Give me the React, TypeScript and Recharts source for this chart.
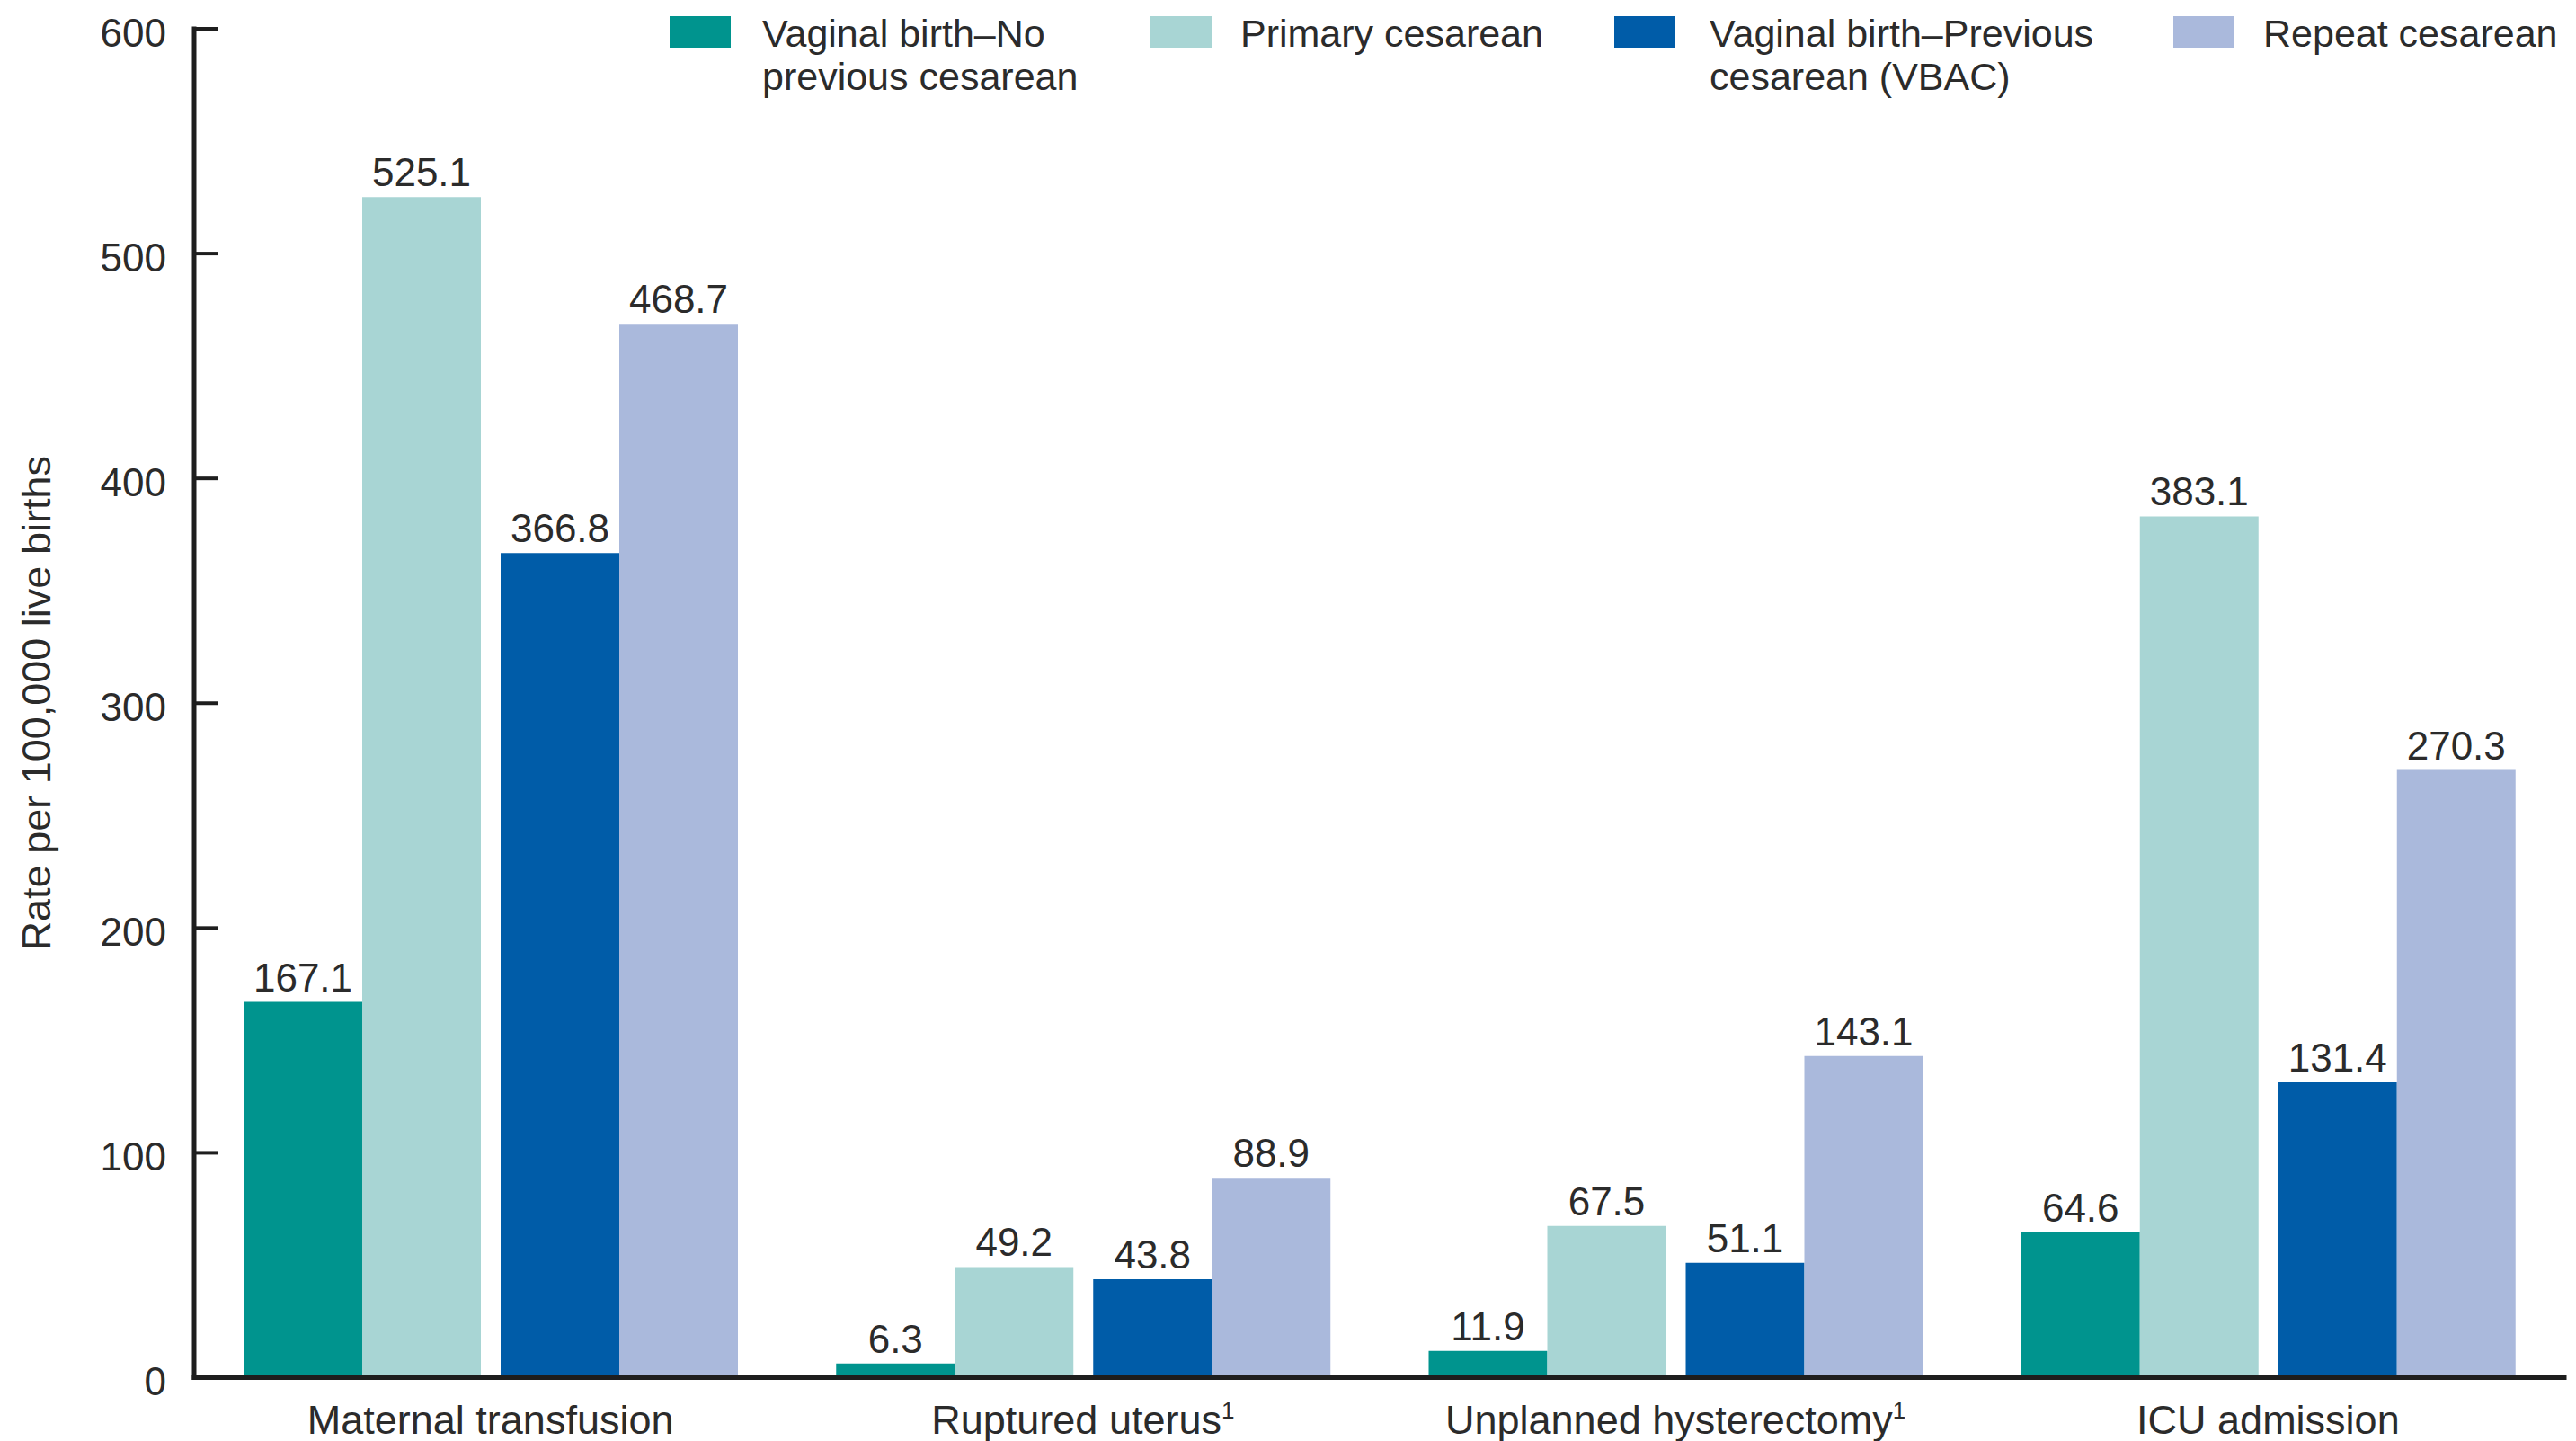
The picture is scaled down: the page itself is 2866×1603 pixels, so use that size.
import { BarChart, Bar, XAxis, YAxis, LabelList, Legend } from "recharts"

const categories = ["Maternal transfusion", "Ruptured uterus", "Unplanned hysterectomy", "ICU admission"]
// categories that carry footnote 1
const footnoted = [false, true, true, false]

const vaginalNoPrevious = [167.1, 6.3, 11.9, 64.6]
const primaryCesarean = [525.1, 49.2, 67.5, 383.1]
const vbac = [366.8, 43.8, 51.1, 131.4]
const repeatCesarean = [468.7, 88.9, 143.1, 270.3]

const yTicks = [0, 100, 200, 300, 400, 500, 600]

const series = [
    { key: "vaginalNoPrevious", lines: ["Vaginal birth\u2013No", "previous cesarean"], color: "#00948e" },
    { key: "primaryCesarean", lines: ["Primary cesarean"], color: "#a8d5d4" },
    { key: "vbac", lines: ["Vaginal birth\u2013Previous", "cesarean (VBAC)"], color: "#005ca8" },
    { key: "repeatCesarean", lines: ["Repeat cesarean"], color: "#aab9dc" },
]

const data = categories.map((category, i) => ({
    category,
    vaginalNoPrevious: vaginalNoPrevious[i],
    primaryCesarean: primaryCesarean[i],
    vbac: vbac[i],
    repeatCesarean: repeatCesarean[i],
}))

const FONT = '"Liberation Sans", Arial, Helvetica, sans-serif'
const INK = "#2b2b2b"
const AXIS = "#1e1e1e"

// left edges of each legend swatch / text column
const legendSwatchX = [737, 1272, 1788, 2410]
const legendTextX = [840, 1372, 1894, 2510]

function CategoryTick({ x, y, payload }: any) {
    const idx = categories.indexOf(payload.value)
    return (
        <text x={x} y={y + 62} textAnchor="middle" fill={INK} fontSize={45} fontFamily={FONT}>
            {payload.value}
            {footnoted[idx] && (
                <tspan dy={-17} fontSize={26}>1</tspan>
            )}
        </text>
    )
}

function ValueTick({ x, y, payload }: any) {
    return (
        <g>
            <text x={x - 31} y={y} dy={4} textAnchor="end" dominantBaseline="central" fill={INK} fontSize={44} fontFamily={FONT}>
                {payload.value}
            </text>
            {payload.value !== 0 && (
                <line x1={x} x2={x + 27} y1={y} y2={y} stroke={AXIS} strokeWidth={4} />
            )}
        </g>
    )
}

function YTitle({ viewBox }: any) {
    const cy = viewBox.y + viewBox.height / 2
    return (
        <text x={32} y={cy} transform={`rotate(-90, 32, ${cy})`} textAnchor="middle" dominantBaseline="central"
            fill={INK} fontSize={45} fontFamily={FONT}>
            Rate per 100,000 live births
        </text>
    )
}

function LegendBox() {
    return (
        <div style={{ position: "relative", width: 2858, height: 110, fontFamily: FONT, color: INK }}>
            {series.map((s, i) => (
                <div key={s.key}>
                    <div style={{ position: "absolute", left: legendSwatchX[i], top: 10, width: 68, height: 35, background: s.color }} />
                    <div style={{ position: "absolute", left: legendTextX[i], top: 5, fontSize: 43, lineHeight: "48px", whiteSpace: "nowrap" }}>
                        {s.lines.map((l) => <div key={l}>{l}</div>)}
                    </div>
                </div>
            ))}
        </div>
    )
}

const fmt = (v: any) => Number(v).toFixed(1)

export default function App() {
    return (
        <div style={{ width: 2858, height: 1595, background: "#fff" }}>
            <BarChart width={2858} height={1595} data={data} barGap={0}
                margin={{ top: 24, right: 13, bottom: 0, left: 0 }}>
                <XAxis
                    dataKey="category"
                    height={70.5}
                    interval={0}
                    axisLine={{ stroke: AXIS, strokeWidth: 5, strokeLinecap: "square" }}
                    tickLine={false}
                    tickSize={0}
                    tickMargin={0}
                    tick={<CategoryTick />}
                />
                <YAxis
                    width={208}
                    domain={[0, 600]}
                    ticks={yTicks}
                    axisLine={{ stroke: AXIS, strokeWidth: 5, strokeLinecap: "square" }}
                    tickLine={false}
                    tickSize={0}
                    tickMargin={0}
                    tick={<ValueTick />}
                    label={{ content: <YTitle /> }}
                />
                <Legend verticalAlign="middle" align="center" wrapperStyle={{ top: 0, left: 0, width: 2858, height: 110 }}
                    content={() => <LegendBox />} />
                <Bar dataKey="vaginalNoPrevious" fill={series[0].color} barSize={132} isAnimationActive={false}>
                    <LabelList dataKey="vaginalNoPrevious" position="top" offset={12} formatter={fmt} fill={INK} fontSize={44} fontFamily={FONT} />
                </Bar>
                <Bar dataKey="primaryCesarean" fill={series[1].color} barSize={132} isAnimationActive={false}>
                    <LabelList dataKey="primaryCesarean" position="top" offset={12} formatter={fmt} fill={INK} fontSize={44} fontFamily={FONT} />
                </Bar>
                {/* empty spacer between the vaginal/cesarean pairs */}
                <Bar dataKey="pairGap" fill="none" barSize={22} legendType="none" isAnimationActive={false} />
                <Bar dataKey="vbac" fill={series[2].color} barSize={132} isAnimationActive={false}>
                    <LabelList dataKey="vbac" position="top" offset={12} formatter={fmt} fill={INK} fontSize={44} fontFamily={FONT} />
                </Bar>
                <Bar dataKey="repeatCesarean" fill={series[3].color} barSize={132} isAnimationActive={false}>
                    <LabelList dataKey="repeatCesarean" position="top" offset={12} formatter={fmt} fill={INK} fontSize={44} fontFamily={FONT} />
                </Bar>
            </BarChart>
        </div>
    )
}
